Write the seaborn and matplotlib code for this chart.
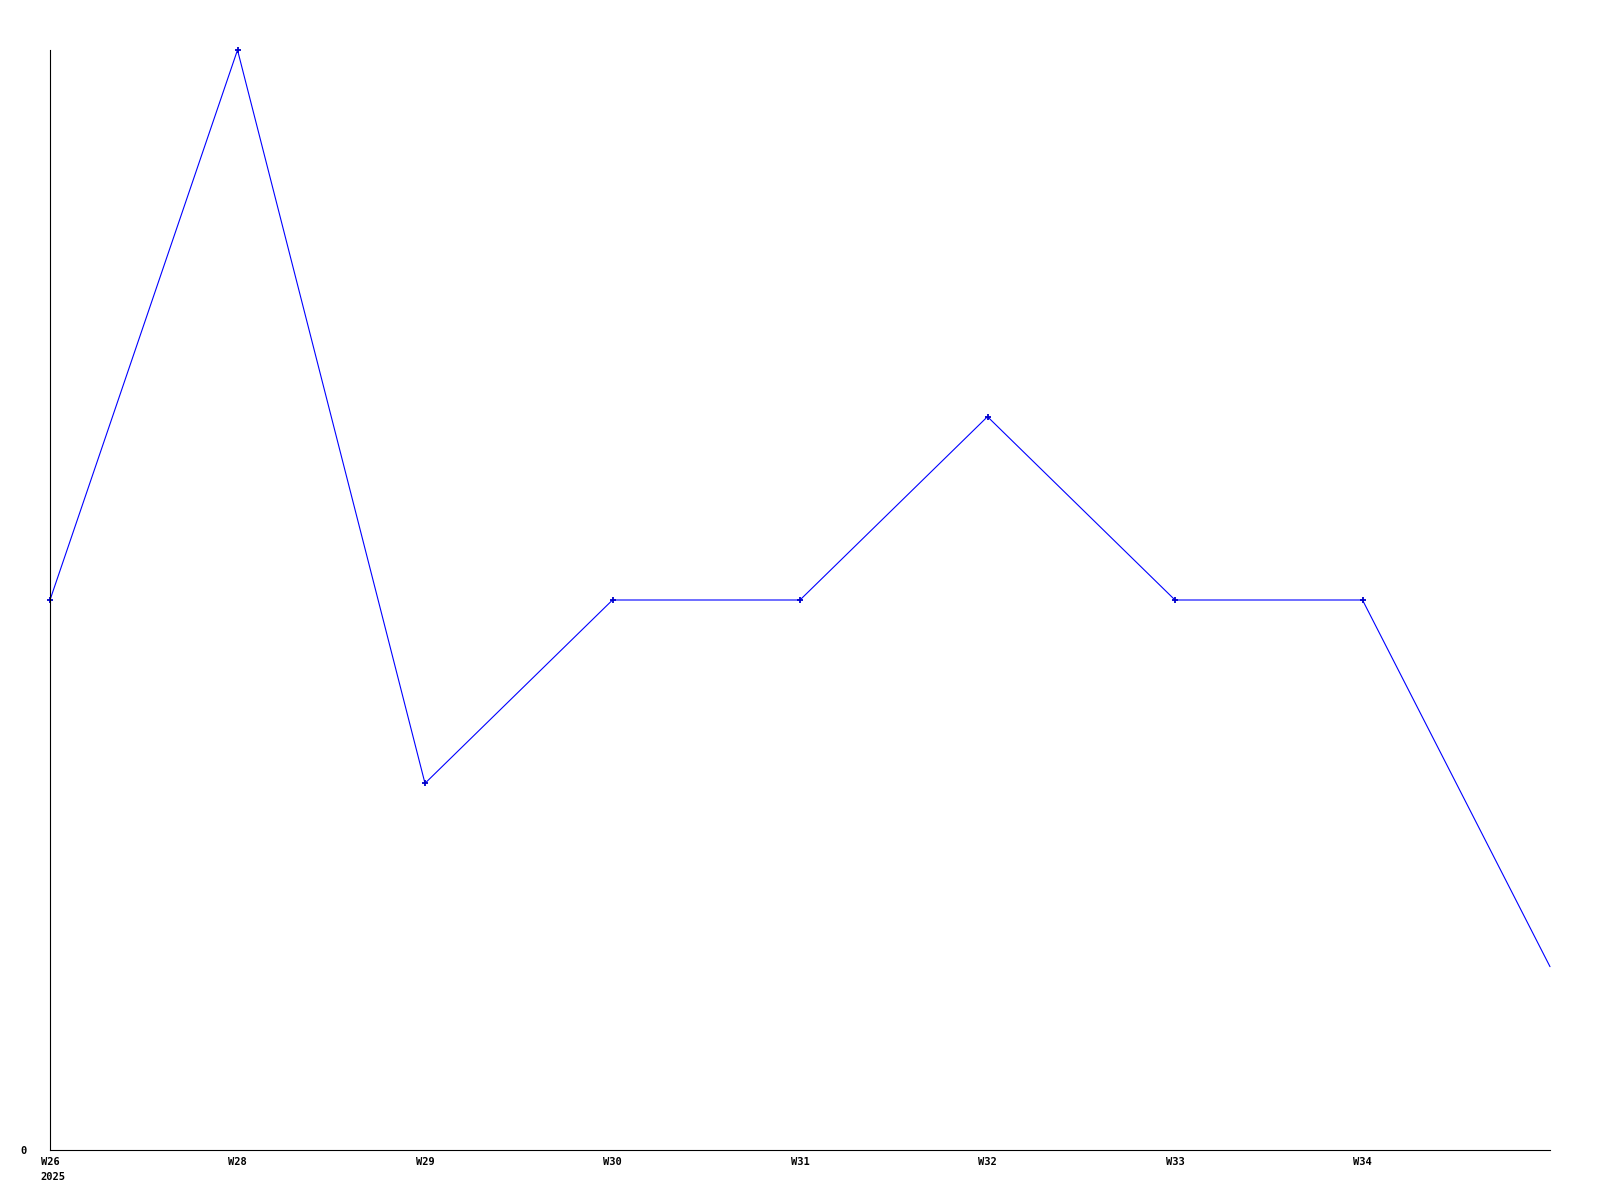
import matplotlib
matplotlib.use("Agg")
import matplotlib.pyplot as plt
import seaborn as sns

# weekly counts, 2025
weeks = ["W26", "W28", "W29", "W30", "W31", "W32", "W33", "W34", "W35"]
counts = [3, 6, 2, 3, 3, 4, 3, 3, 1]
year_label = "2025"

sns.set_theme(style="white")
plt.rcParams["font.family"] = ["DejaVu Sans Mono"]
plt.rcParams["text.color"] = "black"
plt.rcParams["xtick.color"] = "black"
plt.rcParams["ytick.color"] = "black"

fig = plt.figure(figsize=(16, 12), dpi=100)
ax = fig.add_axes([50 / 1600, 50 / 1200, 1500 / 1600, 1100 / 1200])

xpos = list(range(len(weeks)))
sns.lineplot(x=xpos, y=counts, ax=ax, color="#0000ff", linewidth=0.8,
             marker="+", markersize=5, markeredgewidth=1.3,
             markeredgecolor="#0000cc", clip_on=False,
             markevery=list(range(len(weeks) - 1)))

ax.set_xlim(0, len(weeks) - 1)
ax.set_ylim(0, max(counts))

ax.set_xticks(xpos[:-1])
ax.set_xticklabels(weeks[:-1], fontsize=7.5, fontweight="bold")
ax.set_yticks([0])
ax.set_yticklabels(["0"], fontsize=7.5, fontweight="bold")
ax.tick_params(axis="x", length=0, pad=5)
ax.tick_params(axis="y", length=0, pad=17)
ax.annotate(year_label, xy=(0, 0), xycoords="data", xytext=(-7, -16),
            textcoords="offset points", ha="left", va="top",
            fontsize=7.5, fontweight="bold", color="black")

for side in ["top", "right"]:
    ax.spines[side].set_visible(False)
for side in ["left", "bottom"]:
    ax.spines[side].set_color("black")
    ax.spines[side].set_linewidth(0.8)
ax.grid(False)

fig.savefig("out.png", dpi=100, facecolor="white")
